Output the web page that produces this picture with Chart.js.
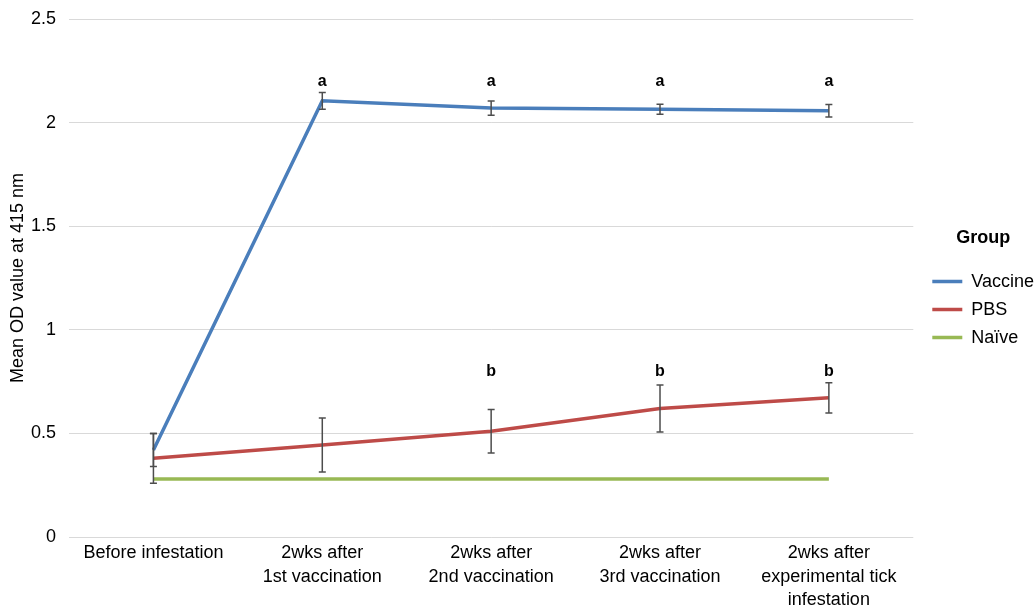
<!DOCTYPE html>
<html>
<head>
<meta charset="utf-8">
<script src="https://cdn.jsdelivr.net/npm/chart.js@4.4.1/dist/chart.umd.min.js"></script>
<style>
  html, body { margin: 0; padding: 0; background: #ffffff; }
  #wrap { width: 1035px; height: 609px; }
</style>
</head>
<body>
<div id="wrap"><canvas id="odChart" width="1035" height="609"></canvas></div>
<script>
// chart values
var timePoints = [
  "Before infestation",
  ["2wks after", "1st vaccination"],
  ["2wks after", "2nd vaccination"],
  ["2wks after", "3rd vaccination"],
  ["2wks after", "experimental tick", "infestation"]
];
var vaccineMean = [0.42, 2.105, 2.07, 2.064, 2.057];
var vaccineErr  = [0.08, 0.04, 0.034, 0.024, 0.03];
var pbsMean     = [0.38, 0.444, 0.51, 0.62, 0.672];
var pbsErr      = [0.12, 0.13, 0.105, 0.113, 0.073];
var naiveMean   = [0.28, 0.28, 0.28, 0.28, 0.28];
var vaccineSig  = ["", "a", "a", "a", "a"];
var pbsSig      = ["", "", "b", "b", "b"];
var yTicks      = [0, 0.5, 1, 1.5, 2, 2.5];

var sigLevel = { vaccine: 2.2, pbs: 0.8 };
var fontFam = "'Liberation Sans', Arial, sans-serif";

// error bars + significance letters, drawn through the chart scales
var errorBarPlugin = {
  id: 'errorBars',
  afterLayout: function(chart) {
    // push the legend block a little to the right, like the original
    if (chart.legend) { chart.legend.left += 9; chart.legend.right += 9; }
  },
  afterDatasetsDraw: function(chart) {
    var ctx = chart.ctx;
    var xs = chart.scales.x, ys = chart.scales.y;
    var sets = [[vaccineMean, vaccineErr], [pbsMean, pbsErr]];
    ctx.save();
    ctx.strokeStyle = '#4d4d4d';
    ctx.lineWidth = 1.5;
    sets.forEach(function(s) {
      for (var i = 0; i < s[0].length; i++) {
        var x = xs.getPixelForValue(i);
        var top = ys.getPixelForValue(s[0][i] + s[1][i]);
        var bot = ys.getPixelForValue(s[0][i] - s[1][i]);
        ctx.beginPath();
        ctx.moveTo(x, top); ctx.lineTo(x, bot);
        ctx.moveTo(x - 3.5, top); ctx.lineTo(x + 3.5, top);
        ctx.moveTo(x - 3.5, bot); ctx.lineTo(x + 3.5, bot);
        ctx.stroke();
      }
    });
    ctx.fillStyle = '#000000';
    ctx.font = 'bold 16px ' + fontFam;
    ctx.textAlign = 'center';
    ctx.textBaseline = 'middle';
    for (var i = 0; i < timePoints.length; i++) {
      var x = xs.getPixelForValue(i);
      if (vaccineSig[i]) ctx.fillText(vaccineSig[i], x, ys.getPixelForValue(sigLevel.vaccine));
      if (pbsSig[i]) ctx.fillText(pbsSig[i], x, ys.getPixelForValue(sigLevel.pbs));
    }
    ctx.restore();
  }
};

var canvas = document.getElementById("odChart");
var lineChart = new Chart(canvas, {
  type: 'line',
  data: {
    labels: timePoints,
    datasets: [
      { label: 'Vaccine', data: vaccineMean, borderColor: '#4a7ebb', backgroundColor: '#4a7ebb', borderWidth: 3.5, pointRadius: 0, tension: 0, fill: false },
      { label: 'PBS', data: pbsMean, borderColor: '#be4b48', backgroundColor: '#be4b48', borderWidth: 3.5, pointRadius: 0, tension: 0, fill: false },
      { label: 'Naïve', data: naiveMean, borderColor: '#98b954', backgroundColor: '#98b954', borderWidth: 3.5, pointRadius: 0, tension: 0, fill: false }
    ]
  },
  options: {
    responsive: false,
    animation: false,
    layout: { padding: { top: 19, left: 2, right: 0, bottom: 0 } },
    plugins: {
      tooltip: { enabled: false },
      legend: {
        position: 'right',
        align: 'start',
        title: { display: true, text: 'Group', color: '#000000', font: { family: fontFam, size: 18, weight: 'bold' }, padding: { top: 210, bottom: 12 } },
        labels: {
          color: '#000000',
          font: { family: fontFam, size: 18 },
          usePointStyle: true,
          pointStyle: 'line',
          pointStyleWidth: 30,
          padding: 10
        }
      }
    },
    scales: {
      x: {
        offset: true,
        afterFit: function(scale) { scale.height = 72; },
        grid: { display: false, drawTicks: false },
        border: { display: false },
        ticks: { color: '#000000', font: { family: fontFam, size: 18, lineHeight: 1.32 }, padding: 4, maxRotation: 0, autoSkip: false }
      },
      y: {
        min: 0,
        max: 2.5,
        afterBuildTicks: function(axis) { axis.ticks = yTicks.map(function(v) { return { value: v }; }); },
        afterFit: function(scale) { scale.width = 67; scale.paddingTop = 0; },
        grid: { color: '#d9d9d9', lineWidth: 1, drawTicks: false },
        border: { display: false },
        ticks: { color: '#000000', font: { family: fontFam, size: 18 }, padding: 13, callback: function(v) { return String(v); } },
        title: { display: true, text: 'Mean OD value at 415 nm', color: '#000000', font: { family: fontFam, size: 18 }, padding: { top: 5, bottom: 4 } }
      }
    }
  },
  plugins: [errorBarPlugin]
});
</script>
</body>
</html>
